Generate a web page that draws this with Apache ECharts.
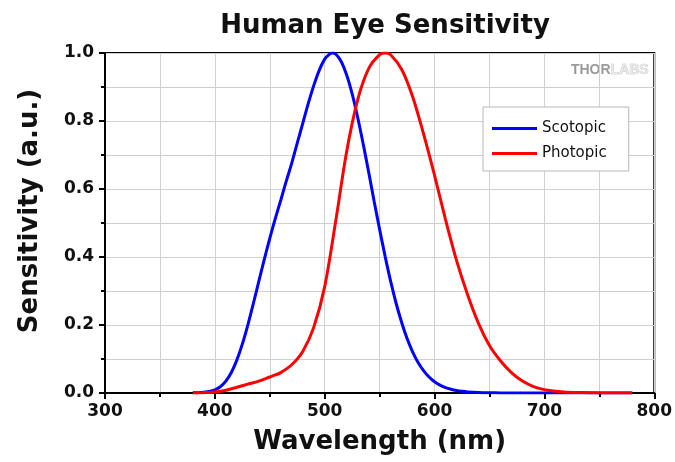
<!DOCTYPE html>
<html>
<head>
<meta charset="utf-8">
<script src="https://cdn.jsdelivr.net/npm/echarts@6/dist/echarts.min.js"></script>
<style>
html,body{margin:0;padding:0;background:#fff;}
#chart{width:675px;height:462px;}
</style>
</head>
<body>
<div id="chart"></div>
<script>
// Wavelengths (nm) and sensitivities
const scotopicWl = [380,385,390,395,400,405,410,415,420,425,430,435,440,445,450,455,460,465,470,475,480,485,490,495,500,505,507,510,515,520,525,530,535,540,545,550,555,560,565,570,575,580,585,590,595,600,605,610,615,620,625,630,640,650,660,680,700,740,780];
const scotopicVal = [0.0006,0.0011,0.0022,0.0045,0.0093,0.0185,0.0348,0.0604,0.0966,0.1436,0.1998,0.2625,0.3281,0.3931,0.455,0.513,0.567,0.623,0.676,0.735,0.793,0.851,0.904,0.949,0.982,0.998,1.0,0.997,0.975,0.935,0.880,0.811,0.733,0.650,0.564,0.481,0.402,0.329,0.264,0.208,0.160,0.121,0.090,0.066,0.047,0.033,0.023,0.016,0.011,0.0074,0.005,0.0033,0.0015,0.0007,0.0003,0.0001,0.00003,0.0,0.0];

const photopicWl = [380,390,400,410,420,430,440,450,455,460,470,480,490,500,510,520,530,540,550,555,560,570,580,590,600,610,620,630,640,650,660,670,680,690,700,710,720,740,760,780];
const photopicVal = [0.0,0.001,0.003,0.008,0.017,0.026,0.035,0.047,0.053,0.06,0.083,0.122,0.193,0.313,0.505,0.71,0.862,0.954,0.995,1.0,0.995,0.952,0.872,0.762,0.64,0.51,0.39,0.29,0.205,0.14,0.095,0.06,0.035,0.019,0.01,0.005,0.0025,0.001,0.0,0.0];

const seriesNames = ['Scotopic','Photopic'];
const xTicks = [300,400,500,600,700,800];
const yTicks = [0.0,0.2,0.4,0.6,0.8,1.0];
const titleText = 'Human Eye Sensitivity';
const xName = 'Wavelength (nm)';
const yName = 'Sensitivity (a.u.)';

const pair = (xs, ys) => xs.map((x,i)=>[x, ys[i]]);

const chart = echarts.init(document.getElementById('chart'), null, {renderer:'canvas'});
const FONT = '"DejaVu Sans", "Liberation Sans", Arial, sans-serif';
const gridColor = '#d0d0d0';

chart.setOption({
  animation: false,
  backgroundColor: '#ffffff',
  title: {
    text: titleText,
    left: 380, top: 8, textAlign: 'center',
    textStyle: {fontFamily: FONT, fontWeight: 'bold', fontSize: 26, color: '#111'}
  },
  grid: {left: 105, right: 20, top: 53, bottom: 69, show: true, borderColor: '#000', borderWidth: 2, backgroundColor: 'transparent'},
  legend: {
    orient: 'vertical',
    left: 483, top: 107,
    padding: [13, 22, 9, 9],
    itemGap: 8,
    itemWidth: 45, itemHeight: 3,
    icon: 'rect',
    borderColor: '#b8b8b8', borderWidth: 1,
    backgroundColor: '#fff',
    textStyle: {fontFamily: FONT, fontSize: 15, color: '#111', lineHeight: 17},
    data: seriesNames
  },
  xAxis: {
    type: 'value', min: xTicks[0], max: xTicks[xTicks.length-1], interval: 100,
    name: xName, nameLocation: 'middle', nameGap: 36,
    nameTextStyle: {fontFamily: FONT, fontWeight: 'bold', fontSize: 26, color: '#111'},
    axisLine: {lineStyle: {color: '#000', width: 2}},
    axisTick: {show: true, inside: false, length: 6, lineStyle: {color: '#000', width: 2}},
    minorTick: {show: true, splitNumber: 2, length: 4, lineStyle: {color: '#000', width: 2}},
    splitLine: {show: true, lineStyle: {color: gridColor, width: 1}},
    minorSplitLine: {show: true, lineStyle: {color: gridColor, width: 1}},
    axisLabel: {fontFamily: FONT, fontWeight: 'bold', fontSize: 17, color: '#111', margin: 10}
  },
  yAxis: {
    type: 'value', min: yTicks[0], max: yTicks[yTicks.length-1], interval: 0.2,
    axisLine: {show: true, lineStyle: {color: '#000', width: 2}},
    axisTick: {show: true, inside: false, length: 6, lineStyle: {color: '#000', width: 2}},
    minorTick: {show: true, splitNumber: 2, length: 4, lineStyle: {color: '#000', width: 2}},
    splitLine: {show: true, lineStyle: {color: gridColor, width: 1}},
    minorSplitLine: {show: true, lineStyle: {color: gridColor, width: 1}},
    axisLabel: {fontFamily: FONT, fontWeight: 'bold', fontSize: 17, color: '#111', margin: 11,
      formatter: v => v.toFixed(1)}
  },
  graphic: [{
    type: 'text', x: 30, y: 211, rotation: Math.PI / 2,
    style: {
      text: yName, fontFamily: FONT, fontWeight: 'bold', fontSize: 26, fill: '#111',
      align: 'center', verticalAlign: 'middle'
    }
  }, {
    type: 'text', right: 26, top: 63,
    style: {
      text: '{a|THOR}{b|LABS}',
      rich: {
        a: {fontFamily: '"Liberation Sans", Arial, sans-serif', fontWeight: 'bold', fontSize: 14, fill: '#9a9a9a'},
        b: {fontFamily: '"Liberation Sans", Arial, sans-serif', fontWeight: 'bold', fontSize: 14, fill: '#e8e8e8', stroke: '#b4b4b4', lineWidth: 0.6}
      }
    }
  }],
  series: [
    {name: seriesNames[0], type: 'line', data: pair(scotopicWl, scotopicVal), smooth: 0.3, symbol: 'none',
     lineStyle: {color: '#0000ff', width: 3}, itemStyle: {color: '#0000ff'}, z: 2},
    {name: seriesNames[1], type: 'line', data: pair(photopicWl, photopicVal), smooth: 0.3, symbol: 'none',
     lineStyle: {color: '#ff0000', width: 3}, itemStyle: {color: '#ff0000'}, z: 3}
  ]
});
</script>
</body>
</html>
